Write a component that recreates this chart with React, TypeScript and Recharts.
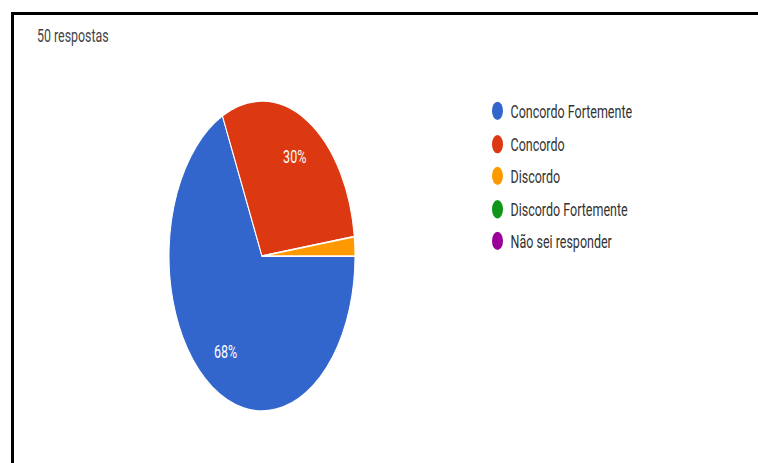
import React from "react";
import { PieChart, Pie, Cell, Legend } from "recharts";

const categories = [
  "Concordo Fortemente",
  "Concordo",
  "Discordo",
  "Discordo Fortemente",
  "Não sei responder",
];
const responses = [34, 15, 1, 0, 0];
const colors = ["#3366CC", "#DC3912", "#FF9900", "#109618", "#990099"];
const totalLabel = "50 respostas";

// the reference is stretched vertically, so the whole chart is drawn flat and scaled
const K = 1.667;
const W = 758;
const H = 463 / K;
const FONT = "Roboto, Arial, sans-serif";
const RAD = Math.PI / 180;

const data = categories.map((name, i) => ({ name, value: responses[i] }));

const renderLabel = (props: any) => {
  const { cx, cy, midAngle, outerRadius, percent } = props;
  if (percent < 0.05) return null;
  const r = outerRadius * 0.73;
  const x = cx + r * Math.cos(-midAngle * RAD);
  const y = cy + r * Math.sin(-midAngle * RAD);
  return (
    <text
      x={0}
      y={0}
      transform={`translate(${x},${y}) scale(1,0.9)`}
      fill="#ffffff"
      fontSize={12.5}
      fontFamily={FONT}
      textAnchor="middle"
      dominantBaseline="central"
    >
      {`${Math.round(percent * 100)}%`}
    </text>
  );
};

const renderLegend = () => (
  <div style={{ fontFamily: FONT }}>
    {categories.map((name, i) => (
      <div
        key={name}
        style={{ display: "flex", alignItems: "center", height: 19.5 }}
      >
        <span
          style={{
            width: 11,
            height: 11,
            borderRadius: "50%",
            background: colors[i],
            display: "inline-block",
            marginRight: 7.5,
          }}
        />
        <span
          style={{
            fontSize: 12.5,
            color: "#333333",
            display: "inline-block",
            transform: "scale(1,0.9)",
            whiteSpace: "nowrap",
          }}
        >
          {name}
        </span>
      </div>
    ))}
  </div>
);

export default function App() {
  return (
    <div
      style={{
        position: "absolute",
        left: 0,
        top: 0,
        width: W,
        height: 463,
        overflow: "hidden",
        background: "#ffffff",
      }}
    >
      <div
        style={{
          position: "absolute",
          left: 0,
          top: 0,
          width: W,
          height: H,
          transform: `scale(1, ${K})`,
          transformOrigin: "0 0",
        }}
      >
        <PieChart
          width={W}
          height={H}
          margin={{ top: 0, right: 0, bottom: 0, left: 0 }}
        >
          <Pie
            data={data}
            dataKey="value"
            nameKey="name"
            cx={262}
            cy={153.6}
            outerRadius={93}
            startAngle={0}
            endAngle={-360}
            stroke="#ffffff"
            strokeWidth={1}
            label={renderLabel}
            labelLine={false}
            isAnimationActive={false}
          >
            {data.map((d, i) => (
              <Cell key={d.name} fill={colors[i]} />
            ))}
          </Pie>
          <Legend
            layout="vertical"
            align="right"
            verticalAlign="top"
            content={renderLegend}
            wrapperStyle={{ left: 492, top: 57.2, right: "auto", width: 200 }}
          />
        </PieChart>
      </div>
      <div
        style={{
          position: "absolute",
          left: 37,
          top: 26.5,
          fontFamily: FONT,
          fontSize: 12.4,
          lineHeight: "12px",
          color: "#444444",
          transform: "scale(1,1.45)",
          transformOrigin: "0 0",
          whiteSpace: "nowrap",
        }}
      >
        {totalLabel}
      </div>
      <div
        style={{
          position: "absolute",
          left: 11,
          top: 12,
          width: W - 11,
          height: 3,
          background: "#000000",
        }}
      />
      <div
        style={{
          position: "absolute",
          left: 11,
          top: 12,
          width: 3,
          height: 463 - 12,
          background: "#000000",
        }}
      />
    </div>
  );
}
